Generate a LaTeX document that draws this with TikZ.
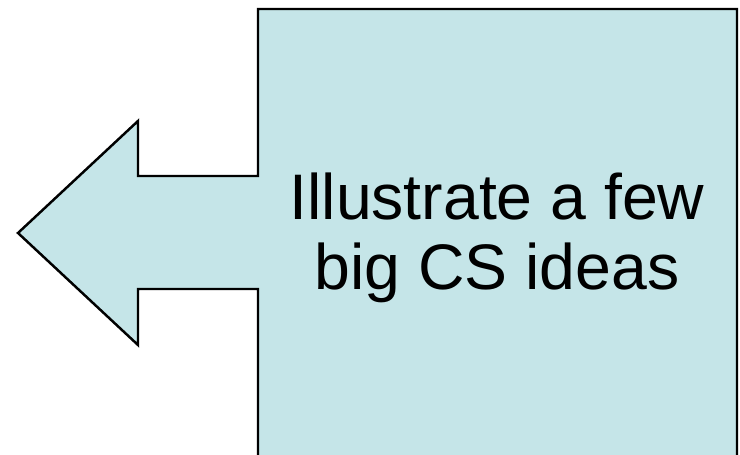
\documentclass[tikz,border=0pt]{standalone}
\usepackage{fontspec}
\setmainfont{Liberation Sans}
\usepackage{tikz}
\definecolor{calloutFill}{HTML}{C5E5E8}

\begin{document}
\begin{tikzpicture}[x=0.01cm, y=-0.01cm,
        callout/.style={draw=black, fill=calloutFill, line width=0.7pt, line join=miter},
        bigtext/.style={align=center, font=\fontsize{18.3}{19.9}\selectfont}
    ]
        \useasboundingbox (0,0) rectangle (740,455);
        \clip (0,0) rectangle (740,455);
        % box with arrow pointing left
        \draw[callout] (258,9) -- (737,9) -- (737,470) -- (258,470) -- (258,289)
            -- (138,289) -- (138,345) -- (18,233) -- (138,121) -- (138,176)
            -- (258,176) -- cycle;
        \node[bigtext] (idea) at (497,238) {Illustrate a few\\big CS ideas};
    \end{tikzpicture}
\end{document}
